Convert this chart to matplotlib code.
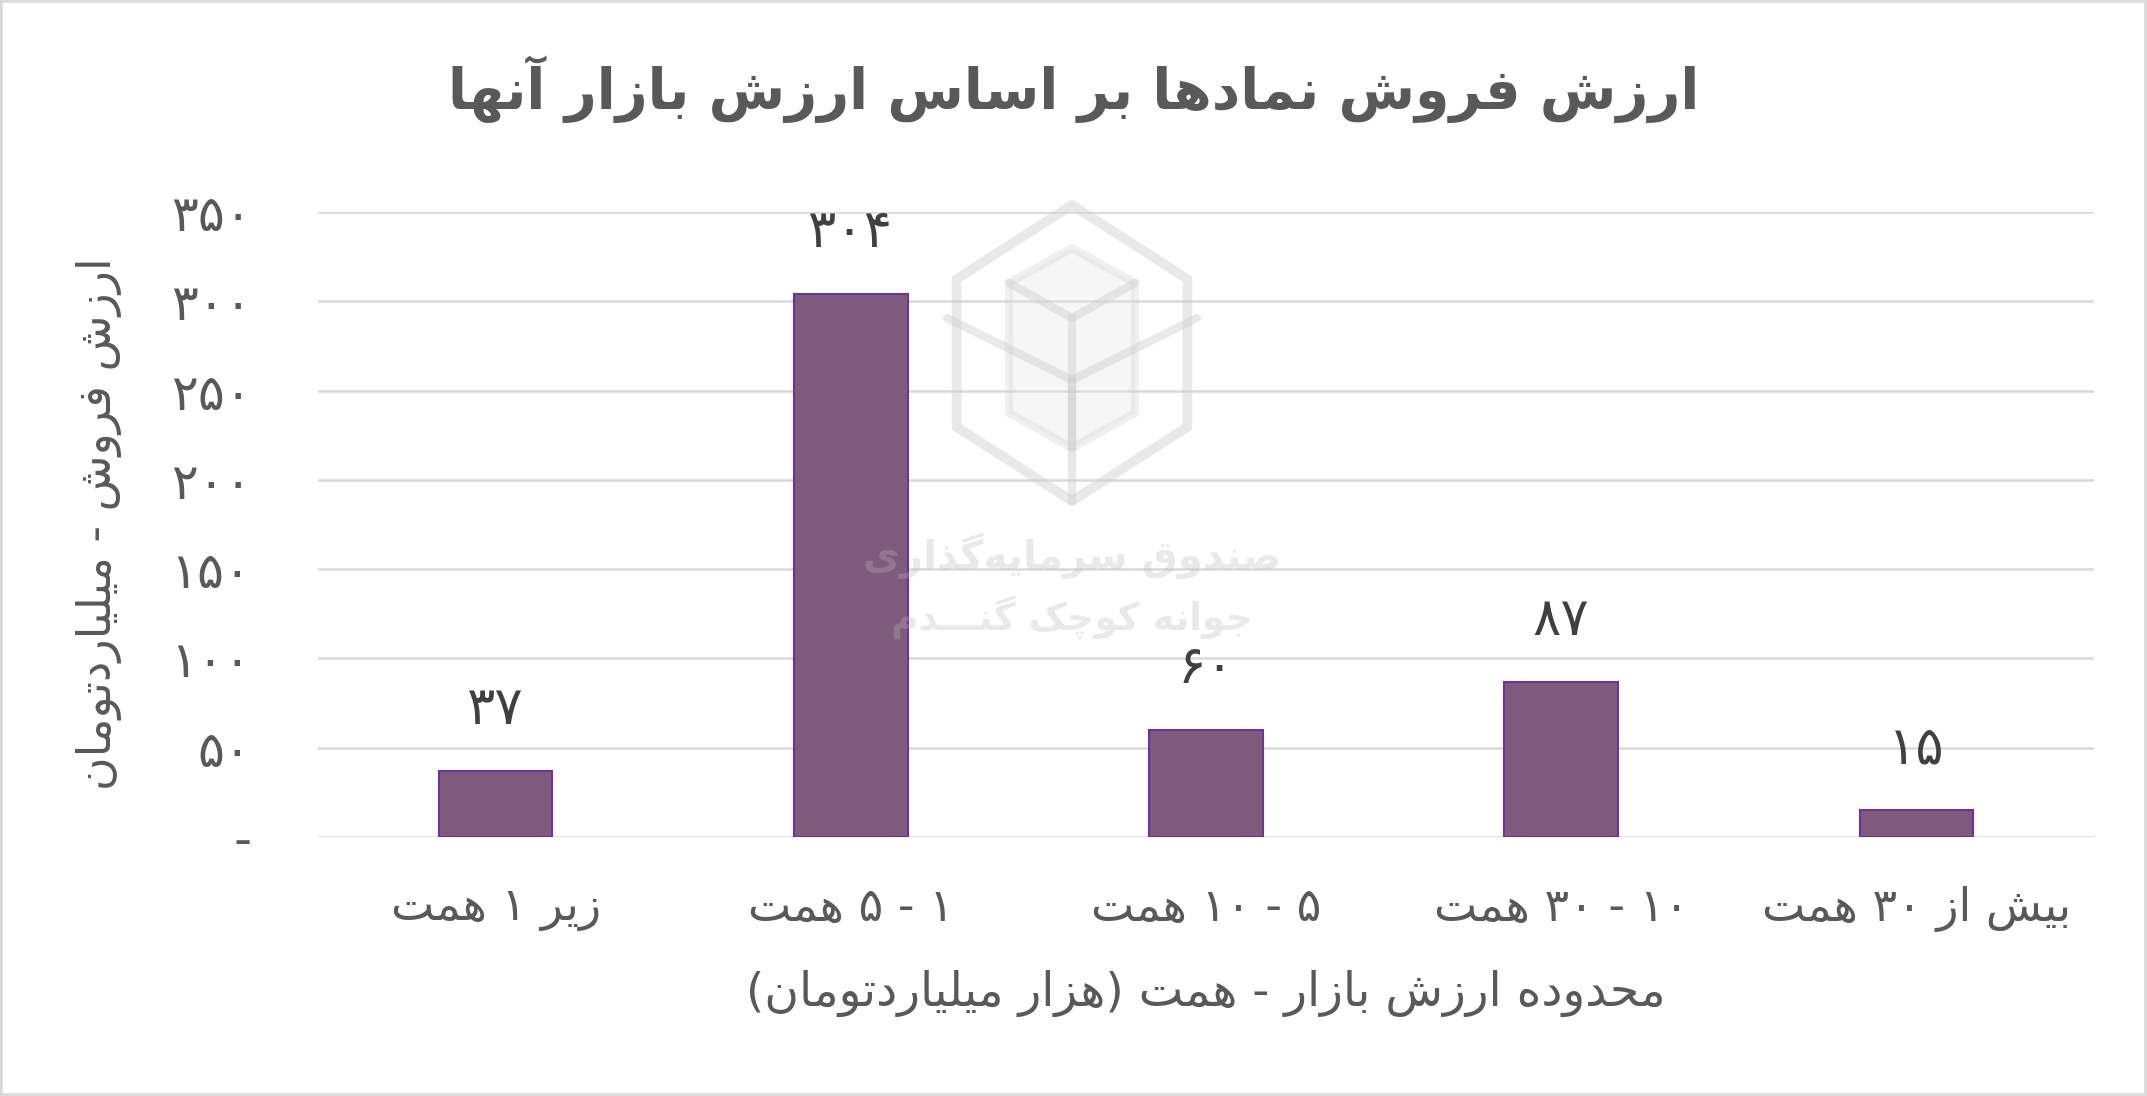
import re
import math
import matplotlib
matplotlib.use("Agg")
import matplotlib.pyplot as plt
from matplotlib.patches import Rectangle, Polygon

# ---------------- data ----------------
title = "ارزش فروش نمادها بر اساس ارزش بازار آنها"
y_label = "ارزش فروش - میلیاردتومان"
x_label = "محدوده ارزش بازار - همت (هزار میلیاردتومان)"
categories = ["زیر ۱ همت", "۱ - ۵ همت", "۵ - ۱۰ همت", "۱۰ - ۳۰ همت", "بیش از ۳۰ همت"]
values = [37, 304, 60, 87, 15]
y_ticks = [0, 50, 100, 150, 200, 250, 300, 350]
watermark_lines = ["صندوق سرمایه‌گذاری", "جوانه کوچک گنـــدم"]

# ---------------- minimal Persian shaping + bidi ----------------
# (isolated, final, initial, medial)
FORMS = {
    '\u0627': ('\uFE8D', '\uFE8E', None, None),
    '\u0622': ('\uFE81', '\uFE82', None, None),
    '\u0628': ('\uFE8F', '\uFE90', '\uFE91', '\uFE92'),
    '\u067E': ('\uFB56', '\uFB57', '\uFB58', '\uFB59'),
    '\u062A': ('\uFE95', '\uFE96', '\uFE97', '\uFE98'),
    '\u062B': ('\uFE99', '\uFE9A', '\uFE9B', '\uFE9C'),
    '\u062C': ('\uFE9D', '\uFE9E', '\uFE9F', '\uFEA0'),
    '\u0686': ('\uFB7A', '\uFB7B', '\uFB7C', '\uFB7D'),
    '\u062D': ('\uFEA1', '\uFEA2', '\uFEA3', '\uFEA4'),
    '\u062E': ('\uFEA5', '\uFEA6', '\uFEA7', '\uFEA8'),
    '\u062F': ('\uFEA9', '\uFEAA', None, None),
    '\u0630': ('\uFEAB', '\uFEAC', None, None),
    '\u0631': ('\uFEAD', '\uFEAE', None, None),
    '\u0632': ('\uFEAF', '\uFEB0', None, None),
    '\u0698': ('\uFB8A', '\uFB8B', None, None),
    '\u0633': ('\uFEB1', '\uFEB2', '\uFEB3', '\uFEB4'),
    '\u0634': ('\uFEB5', '\uFEB6', '\uFEB7', '\uFEB8'),
    '\u0635': ('\uFEB9', '\uFEBA', '\uFEBB', '\uFEBC'),
    '\u0636': ('\uFEBD', '\uFEBE', '\uFEBF', '\uFEC0'),
    '\u0637': ('\uFEC1', '\uFEC2', '\uFEC3', '\uFEC4'),
    '\u0638': ('\uFEC5', '\uFEC6', '\uFEC7', '\uFEC8'),
    '\u0639': ('\uFEC9', '\uFECA', '\uFECB', '\uFECC'),
    '\u063A': ('\uFECD', '\uFECE', '\uFECF', '\uFED0'),
    '\u0641': ('\uFED1', '\uFED2', '\uFED3', '\uFED4'),
    '\u0642': ('\uFED5', '\uFED6', '\uFED7', '\uFED8'),
    '\u06A9': ('\uFB8E', '\uFB8F', '\uFB90', '\uFB91'),
    '\u06AF': ('\uFB92', '\uFB93', '\uFB94', '\uFB95'),
    '\u0644': ('\uFEDD', '\uFEDE', '\uFEDF', '\uFEE0'),
    '\u0645': ('\uFEE1', '\uFEE2', '\uFEE3', '\uFEE4'),
    '\u0646': ('\uFEE5', '\uFEE6', '\uFEE7', '\uFEE8'),
    '\u0648': ('\uFEED', '\uFEEE', None, None),
    '\u0647': ('\uFEE9', '\uFEEA', '\uFEEB', '\uFEEC'),
    '\u06CC': ('\uFBFC', '\uFBFD', '\uFBFE', '\uFBFF'),
    '\u0640': ('\u0640', '\u0640', '\u0640', '\u0640'),
}
MIRROR = {'(': ')', ')': '(', '[': ']', ']': '['}


def shape(s):
    out = []
    n = len(s)
    for i, c in enumerate(s):
        if c not in FORMS:
            if c != '\u200c':
                out.append(c)
            continue
        f = FORMS[c]
        prev = s[i - 1] if i > 0 else None
        nxt = s[i + 1] if i < n - 1 else None
        jp = prev in FORMS and FORMS[prev][2] is not None
        jn = nxt in FORMS and f[2] is not None
        if jp and jn:
            out.append(f[3])
        elif jp:
            out.append(f[1])
        elif jn:
            out.append(f[2])
        else:
            out.append(f[0])
    return ''.join(out)


def fa(s):
    s = shape(s)
    runs = re.findall(r'[0-9\u06F0-\u06F9]+|[^0-9\u06F0-\u06F9]+', s)
    res = []
    for r in reversed(runs):
        if re.match(r'[0-9\u06F0-\u06F9]', r):
            res.append(r)
        else:
            res.append(''.join(MIRROR.get(ch, ch) for ch in reversed(r)))
    return ''.join(res)


def fa_num(v):
    return str(v).translate(str.maketrans('0123456789', '۰۱۲۳۴۵۶۷۸۹'))


# ---------------- figure ----------------
plt.rcParams['font.family'] = ['DejaVu Sans']
W, H = 2147, 1096
fig = plt.figure(figsize=(W / 100, H / 100), dpi=100)
fig.patch.set_facecolor('white')

ax_l, ax_r, ax_t, ax_b = 318, 2094, 212, 837
ax = fig.add_axes([ax_l / W, 1 - ax_b / H, (ax_r - ax_l) / W, (ax_b - ax_t) / H])
ax.set_facecolor('none')

x = list(range(len(categories)))
ax.bar(x, values, width=0.32, color='#7E5B7B', edgecolor='#7030A0',
       linewidth=1.5, zorder=3)

ax.set_xlim(-0.5, len(categories) - 0.5)
ax.set_ylim(0, 350)
ax.set_yticks(y_ticks)
ax.set_yticklabels(['-' if v == 0 else fa_num(v) for v in y_ticks])
ax.set_xticks(x)
ax.set_xticklabels([fa(c) for c in categories])
ax.tick_params(axis='both', length=0, labelcolor='#595959')
ax.tick_params(axis='y', pad=48, labelsize=36)
ax.tick_params(axis='x', pad=35, labelsize=33)
ax.grid(axis='y', color='#D9D9D9', linewidth=1.8, zorder=0)
for sp in ax.spines.values():
    sp.set_visible(False)

for xi, v in zip(x, values):
    ax.annotate(fa_num(v), (xi, v), xytext=(0, 62), textcoords='offset pixels',
                ha='center', va='center', fontsize=38, color='#404040', zorder=5)

fig.text(99 / W, 1 - 524 / H, fa(y_label), rotation=90, ha='center', va='center',
         fontsize=33, color='#595959')
fig.text((ax_l + ax_r) / 2 / W, 1 - 993 / H, fa(x_label), ha='center', va='center',
         fontsize=34, color='#595959')
fig.text(0.5, 1 - 89 / H, fa(title), ha='center', va='center', fontsize=40,
         fontweight='bold', color='#595959')

# ---------------- watermark (logo + text) ----------------
wm = fig.add_axes([0, 0, 1, 1], zorder=10)
wm.set_xlim(0, W)
wm.set_ylim(H, 0)
wm.axis('off')
cx, cy = 1072, 353


def hexagon(cx, cy, r):
    return [(cx + r * math.cos(math.radians(90 + 60 * k)) * 0.9,
             cy - r * math.sin(math.radians(90 + 60 * k))) for k in range(6)]


gray = '#CFCFCF'
wm.add_patch(Polygon(hexagon(cx, cy, 148), closed=True, fill=False,
                     edgecolor=gray, linewidth=7, alpha=0.45, joinstyle='round'))
inner = [(cx, cy - 105), (cx + 63, cy - 70), (cx + 63, cy + 60), (cx, cy + 95),
         (cx - 63, cy + 60), (cx - 63, cy - 70)]
wm.add_patch(Polygon(inner, closed=True, facecolor='#E4E4E4', edgecolor=gray,
                     linewidth=6, alpha=0.3, joinstyle='round'))
for seg in [[(cx - 125, cy - 35), (cx, cy + 27), (cx + 125, cy - 35)],
            [(cx, cy + 27), (cx, cy + 148)],
            [(cx - 63, cy - 70), (cx, cy - 35), (cx + 63, cy - 70)],
            [(cx, cy - 35), (cx, cy + 95)]]:
    xs, ys = zip(*seg)
    wm.plot(xs, ys, color=gray, linewidth=6, alpha=0.45, solid_capstyle='round')
wm.text(cx, 556, fa(watermark_lines[0]), ha='center', va='center', fontsize=29,
        fontweight='bold', color='#B8B8B8', alpha=0.3)
wm.text(cx, 618, fa(watermark_lines[1]), ha='center', va='center', fontsize=27,
        fontweight='bold', color='#B8B8B8', alpha=0.3)

# frame
fig.add_artist(Rectangle((0, 0), 1, 1, transform=fig.transFigure, fill=False,
                         edgecolor='#D9D9D9', linewidth=4))

fig.savefig('out.png', dpi=100, facecolor='white')
